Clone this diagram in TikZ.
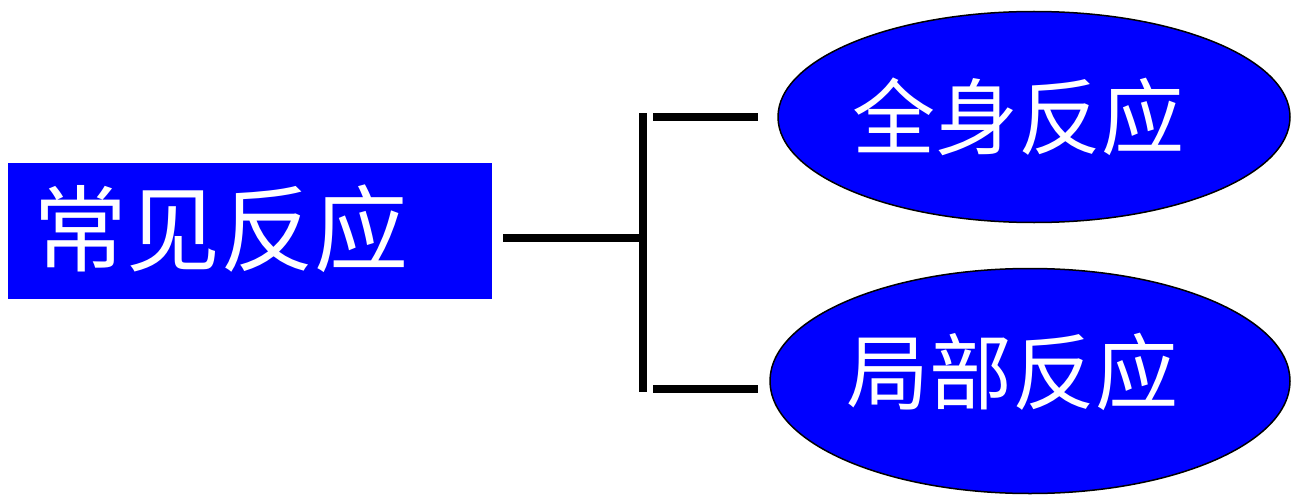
\documentclass[tikz,border=0pt]{standalone}
\usepackage{fontspec}
\newfontfamily\cjk{Noto Sans CJK SC}
\usetikzlibrary{shapes.geometric}
\definecolor{pblue}{RGB}{0,0,255}
\begin{document}
\begin{tikzpicture}[x=1pt,y=-1pt,
  boxstyle/.style={rectangle,fill=pblue,draw=none,inner sep=0pt,minimum width=484pt,minimum height=136pt},
  ovalstyle/.style={ellipse,fill=pblue,draw=black,line width=1.5pt,inner sep=0pt},
  txt/.style={text=white,inner sep=0pt,font=\cjk\fontsize{#1}{#1}\selectfont},
  conn/.style={line width=7.5pt,line cap=butt}]
\useasboundingbox (0,0) rectangle (1291,495);
\node[boxstyle] (box) at (250,231) {};
\node[txt=94] (boxtxt) at (221,229) {常见反应};
\node[ovalstyle,minimum width=512pt,minimum height=211pt] (top) at (1034,117) {};
\node[txt=83] (toptxt) at (1018,117) {全身反应};
\node[ovalstyle,minimum width=520pt,minimum height=225pt] (bot) at (1030,381) {};
\node[txt=83] (bottxt) at (1012,372) {局部反应};
\coordinate (hs) at (503,238);
\coordinate (vt) at (643,113);
\coordinate (vb) at (643,392);
\coordinate (vm) at (643,238);
\coordinate (t1) at (653,117);
\coordinate (t2) at (758,117);
\coordinate (b1) at (653,389);
\coordinate (b2) at (758,389);
\draw[conn] (hs) -- (vm);
\draw[conn] (vt) -- (vb);
\draw[conn] (t1) -- (t2);
\draw[conn] (b1) -- (b2);
\end{tikzpicture}
\end{document}
